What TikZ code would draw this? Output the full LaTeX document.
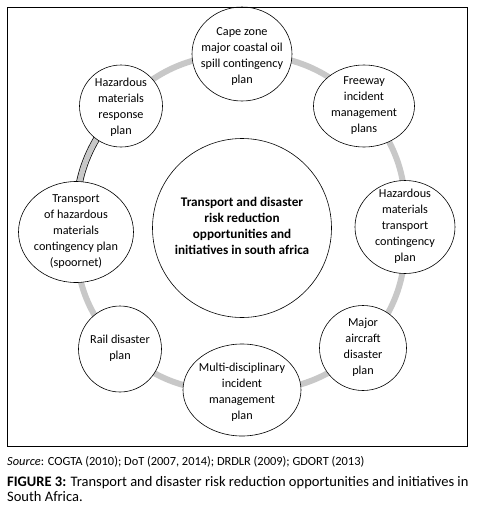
\documentclass[tikz,border=0pt]{standalone}
\usepackage{fontspec}
\setmainfont{Carlito}
\usetikzlibrary{shapes.geometric,backgrounds}
\definecolor{ringgray}{HTML}{C8C8C8}
\newcommand\tx[2][0pt]{\makebox[0pt]{\raisebox{\dimexpr-5.5pt-#1\relax}{\smash{\begin{tabular}[c]{@{}c@{}}#2\end{tabular}}}}}
\begin{document}
\begin{tikzpicture}[x=1pt,y=-1pt,
  bub/.style={ellipse, draw, fill=white, line width=0.6pt, inner sep=0pt, outer sep=0pt,
    font=\fontsize{12.2}{16}\selectfont},
  ring/.style={line width=6pt, draw=ringgray},
  darkseg/.style={line width=0.7pt, draw=black, double=ringgray, double distance=5.5pt},
  captext/.style={anchor=base west, inner sep=0pt}]
\useasboundingbox (0,0) rectangle (484,515);
\node[bub, minimum width=100pt, minimum height=94pt] (cape) at (242,54)
  {\tx[5pt]{Cape zone\\major coastal oil\\spill contingency\\plan}};
\node[bub, minimum width=101pt, minimum height=82pt] (freeway) at (364,106)
  {\tx{Freeway\\incident\\management\\plans}};
\node[bub, minimum width=100pt, minimum height=93pt] (hazt) at (405,227)
  {\tx{Hazardous\\materials\\transport\\contingency\\plan}};
\node[bub, minimum width=87pt, minimum height=85pt] (air) at (363,348)
  {\tx{Major\\aircraft\\disaster\\plan}};
\node[bub, minimum width=118pt, minimum height=92pt] (multi) at (242,390)
  {\tx[6pt]{Multi-disciplinary\\incident\\management\\plan}};
\node[bub, minimum width=83pt, minimum height=86pt] (rail) at (120,349)
  {\tx{Rail disaster\\plan}};
\node[bub, minimum width=115pt, minimum height=101pt] (trans) at (76,232)
  {\tx{Transport\\of hazardous\\materials\\contingency plan\\(spoornet)}};
\node[bub, minimum width=83pt, minimum height=82pt] (hazr) at (121,106)
  {\tx[2.5pt]{Hazardous\\materials\\response\\plan}};
\node[bub, minimum width=179pt, minimum height=179pt, font=\fontsize{13.2}{16}\selectfont\bfseries] (core) at (242,228)
  {\tx{Transport and disaster\\risk reduction\\opportunities and\\initiatives in south africa}};
\begin{scope}[on background layer]
  \fill[white] (0,0) rectangle (484,515);
  \draw[ring] (cape.center) to[bend left=22] (freeway.center);
  \draw[ring] (freeway.center) to[bend left=22] (hazt.center);
  \draw[ring] (hazt.center) to[bend left=22] (air.center);
  \draw[ring] (air.center) to[bend left=22] (multi.center);
  \draw[ring] (multi.center) to[bend left=22] (rail.center);
  \draw[ring] (rail.center) to[bend left=22] (trans.center);
  \draw[darkseg] (trans.center) to[bend left=22] (hazr.center);
  \draw[ring] (hazr.center) to[bend left=22] (cape.center);
\end{scope}
\node[draw, line width=0.8pt, minimum width=460pt, minimum height=439pt, inner sep=0pt] (frame) at (237,226.5) {};
\node[captext, font=\fontsize{12.4}{14}\selectfont] (src) at (7,465)
  {\textit{Source}: COGTA (2010); DoT (2007, 2014); DRDLR (2009); GDORT (2013)};
\node[captext, font=\fontsize{14.5}{15}\selectfont] (fig1) at (7,486)
  {\textbf{FIGURE 3:} Transport and disaster risk reduction opportunities and initiatives in};
\node[captext, font=\fontsize{14.5}{15}\selectfont] (fig2) at (7,501)
  {South Africa.};
\end{tikzpicture}
\end{document}
